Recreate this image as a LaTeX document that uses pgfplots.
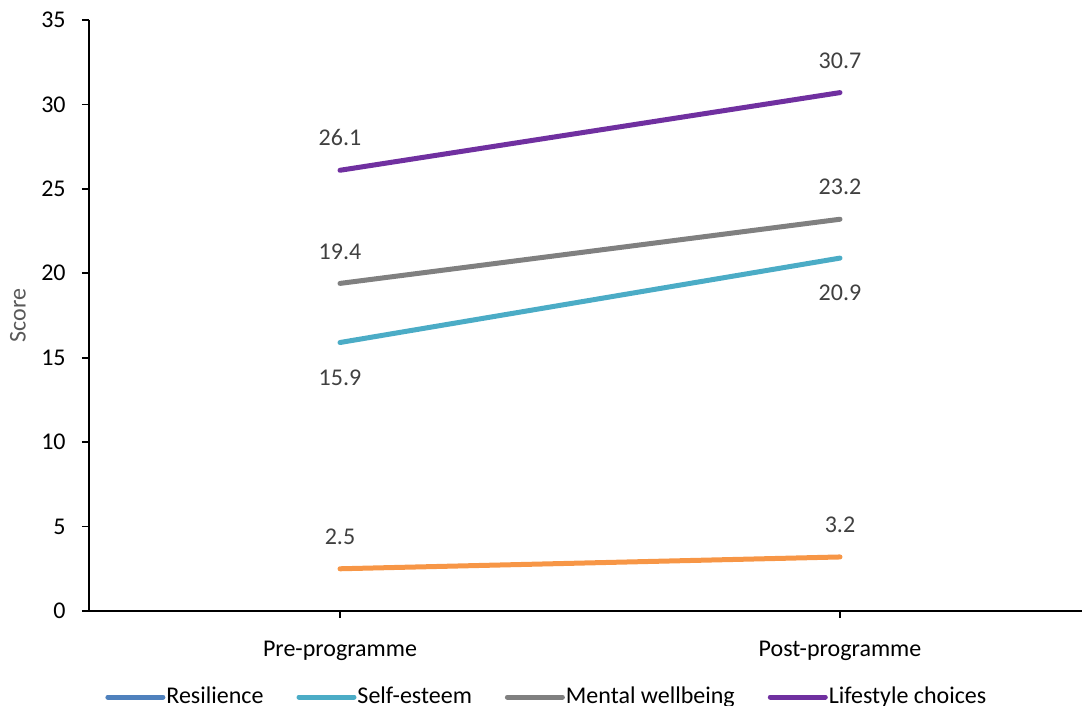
\documentclass[border=0pt]{standalone}
\usepackage{pgfplots}
\pgfplotsset{compat=1.18}
\usepackage{fontspec}
\setmainfont{Carlito}

\definecolor{resil}{HTML}{4F81BD}
\definecolor{selfe}{HTML}{4BACC6}
\definecolor{mental}{HTML}{808080}
\definecolor{life}{HTML}{7030A0}
\definecolor{orng}{HTML}{F79646}
\definecolor{lbl}{HTML}{404040}
\definecolor{ylab}{HTML}{595959}

\begin{document}
\begin{tikzpicture}
\begin{axis}[
    scale only axis,
    width=496.5pt, height=295.5pt,
    xmin=-0.502, xmax=1.484,
    ymin=0, ymax=35,
    axis x line=bottom, axis y line=left,
    axis line style={-, black, line width=0.9pt},
    xtick={0,1},
    xticklabels={Pre-programme, Post-programme},
    ytick={0,5,...,35},
    tick align=outside,
    major tick length=3.5pt,
    tick style={black, line width=0.8pt},
    /pgf/number format/assume math mode=true,
    yticklabel style={font=\fontsize{12}{14}\selectfont, inner sep=0pt, xshift=-8pt},
    xticklabel style={font=\fontsize{12}{14}\selectfont, anchor=base, yshift=-19.5pt},
    ylabel={Score},
    ylabel style={font=\fontsize{12}{14}\selectfont, text=ylab, at={(axis description cs:-0.0715,0.5)}, anchor=center},
    clip=false,
    nodes near coords={\pgfmathprintnumber[fixed, fixed zerofill, precision=1, assume math mode=true]{\pgfplotspointmeta}},
    nodes near coords style={font=\fontsize{12}{14}\selectfont, text=lbl, anchor=base},
    legend columns=4,
    legend cell align=left,
    legend style={draw=none, fill=none, inner sep=0pt,
        at={(axis description cs:0,0)}, anchor=west, xshift=8pt, yshift=-43pt,
        font=\fontsize{12}{14}\selectfont,
        nodes={inner sep=0.5pt},
        /tikz/every even column/.append style={column sep=16pt}},
    legend image code/.code={\draw[#1, line cap=round] (0pt,0pt) -- (27.5pt,0pt);},
    every axis plot/.append style={line width=2.5pt, line cap=round},
]
\addlegendimage{resil}
\addlegendentry{Resilience}

\addplot[selfe, nodes near coords style={yshift=-21.25pt}] coordinates {(0,15.9) (1,20.9)};
\addlegendentry{Self-esteem}

\addplot[mental, nodes near coords style={yshift=12.2pt}] coordinates {(0,19.4) (1,23.2)};
\addlegendentry{Mental wellbeing}

\addplot[life, nodes near coords style={yshift=12.2pt}] coordinates {(0,26.1) (1,30.7)};
\addlegendentry{Lifestyle choices}

\addplot[orng, forget plot, nodes near coords style={yshift=12.2pt}] coordinates {(0,2.5) (1,3.2)};
\end{axis}
\pgfresetboundingbox
\useasboundingbox (-44.5pt,-47.5pt) rectangle (496.5pt,305.5pt);
\end{tikzpicture}
\end{document}
